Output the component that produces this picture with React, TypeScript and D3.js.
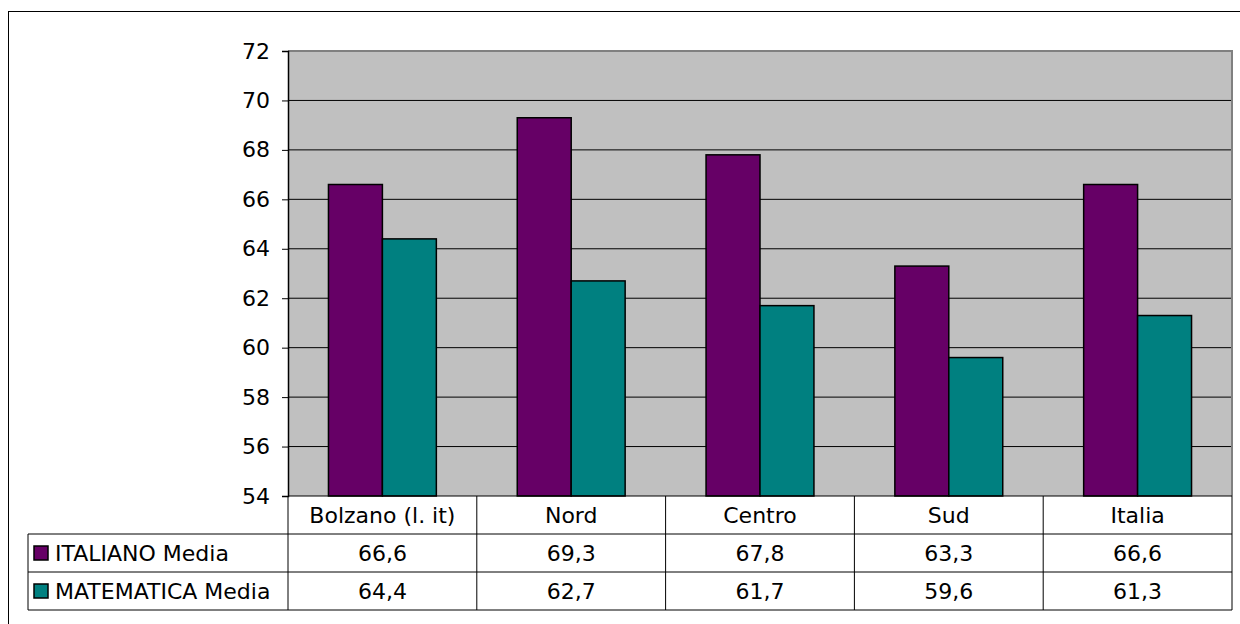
import { useEffect, useRef } from 'react'
import * as d3 from 'd3'

const CATEGORIES = ['Bolzano (l. it)', 'Nord', 'Centro', 'Sud', 'Italia']
const ITALIANO = [66.6, 69.3, 67.8, 63.3, 66.6]
const MATEMATICA = [64.4, 62.7, 61.7, 59.6, 61.3]
const Y_TICKS = [54, 56, 58, 60, 62, 64, 66, 68, 70, 72]

const SERIES = [
  { label: 'ITALIANO Media', values: ITALIANO, color: '#660066' },
  { label: 'MATEMATICA Media', values: MATEMATICA, color: '#008080' },
]

const W = 1240
const H = 624
const PLOT = { left: 288, top: 51, right: 1232, bottom: 496 }
const ROW_H = 38
const LEGEND_LEFT = 28
const FONT = 'Verdana, "DejaVu Sans", sans-serif'
const FS = 22

export default function App() {
  const svgRef = useRef<SVGSVGElement>(null)

  useEffect(() => {
    const svg = d3.select(svgRef.current!)
    svg.selectAll('*').remove()

    // outer chart frame (runs off the right/bottom edge)
    svg.append('rect')
      .attr('x', 8.5).attr('y', 11.5).attr('width', W).attr('height', H)
      .attr('fill', 'white').attr('stroke', '#000').attr('stroke-width', 1)

    const x = d3.scaleBand<string>().domain(CATEGORIES).range([PLOT.left, PLOT.right])
    const y = d3.scaleLinear([54, 72], [PLOT.bottom, PLOT.top])
    const inner = d3.scaleBand<number>().domain([0, 1])
      .range([0, x.bandwidth() / 1.75])

    // plot background
    svg.append('rect')
      .attr('x', PLOT.left).attr('y', PLOT.top)
      .attr('width', PLOT.right - PLOT.left).attr('height', PLOT.bottom - PLOT.top)
      .attr('fill', '#C0C0C0')

    // gridlines
    svg.append('g')
      .selectAll('line')
      .data(Y_TICKS.slice(1, -1))
      .join('line')
      .attr('x1', PLOT.left).attr('x2', PLOT.right)
      .attr('y1', d => y(d)).attr('y2', d => y(d))
      .attr('stroke', '#000').attr('stroke-width', 1)

    // plot border top/right (gray)
    svg.append('path')
      .attr('d', `M${PLOT.left},${PLOT.top}H${PLOT.right}V${PLOT.bottom}`)
      .attr('fill', 'none').attr('stroke', '#808080').attr('stroke-width', 2)

    // bars
    const offset = (x.bandwidth() - x.bandwidth() / 1.75) / 2
    SERIES.forEach((s, si) => {
      svg.append('g')
        .selectAll('rect')
        .data(s.values)
        .join('rect')
        .attr('x', (_, i) => x(CATEGORIES[i])! + offset + inner(si)!)
        .attr('y', d => y(d))
        .attr('width', inner.bandwidth())
        .attr('height', d => y(54) - y(d))
        .attr('fill', s.color)
        .attr('stroke', '#000').attr('stroke-width', 1.5)
    })

    // y axis
    svg.append('g')
      .attr('transform', `translate(${PLOT.left},0)`)
      .call(d3.axisLeft(y).tickValues(Y_TICKS).tickSize(6).tickPadding(12).tickFormat(d3.format('d')))
      .call(ag => ag.select('.domain').attr('stroke', '#000').attr('stroke-width', 1.5))
      .call(ag => ag.selectAll('.tick line').attr('stroke', '#000'))
      .call(ag => ag.selectAll('text')
        .attr('font-family', FONT).attr('font-size', FS).attr('fill', '#000'))

    // data table
    const t = svg.append('g')
      .attr('font-family', FONT).attr('font-size', FS).attr('fill', '#000')
    const tableBottom = PLOT.bottom + ROW_H * 3
    const hline = (x1: number, x2: number, yy: number) =>
      t.append('line').attr('x1', x1).attr('x2', x2).attr('y1', yy).attr('y2', yy)
        .attr('stroke', '#000').attr('stroke-width', 1)
    hline(LEGEND_LEFT, PLOT.right, PLOT.bottom + ROW_H)
    hline(LEGEND_LEFT, PLOT.right, PLOT.bottom + ROW_H * 2)
    hline(LEGEND_LEFT, PLOT.right, tableBottom)
    hline(PLOT.left, PLOT.right, PLOT.bottom)

    const cols = [...CATEGORIES.map(c => x(c)!), PLOT.right]
    cols.forEach(cx => {
      t.append('line').attr('x1', cx).attr('x2', cx)
        .attr('y1', PLOT.bottom).attr('y2', tableBottom)
        .attr('stroke', '#000').attr('stroke-width', 1)
    })
    t.append('line').attr('x1', LEGEND_LEFT).attr('x2', LEGEND_LEFT)
      .attr('y1', PLOT.bottom + ROW_H).attr('y2', tableBottom)
      .attr('stroke', '#000').attr('stroke-width', 1)

    CATEGORIES.forEach(c => {
      t.append('text')
        .attr('x', x(c)! + x.bandwidth() / 2).attr('y', PLOT.bottom + ROW_H / 2)
        .attr('dy', '0.35em').attr('text-anchor', 'middle')
        .text(c)
    })

    SERIES.forEach((s, si) => {
      const ry = PLOT.bottom + ROW_H * (si + 1)
      t.append('rect')
        .attr('x', LEGEND_LEFT + 6).attr('y', ry + ROW_H / 2 - 7)
        .attr('width', 14).attr('height', 14)
        .attr('fill', s.color).attr('stroke', '#000').attr('stroke-width', 1.5)
      t.append('text')
        .attr('x', LEGEND_LEFT + 27).attr('y', ry + ROW_H / 2)
        .attr('dy', '0.35em')
        .text(s.label)
      s.values.forEach((v, i) => {
        t.append('text')
          .attr('x', x(CATEGORIES[i])! + x.bandwidth() / 2).attr('y', ry + ROW_H / 2)
          .attr('dy', '0.35em').attr('text-anchor', 'middle')
          .text(v.toFixed(1).replace('.', ','))
      })
    })
  }, [])

  return (
    <div style={{ position: 'absolute', left: 0, top: 0, width: W, height: H, overflow: 'hidden' }}>
      <svg ref={svgRef} width={W} height={H} style={{ display: 'block' }} />
    </div>
  )
}
